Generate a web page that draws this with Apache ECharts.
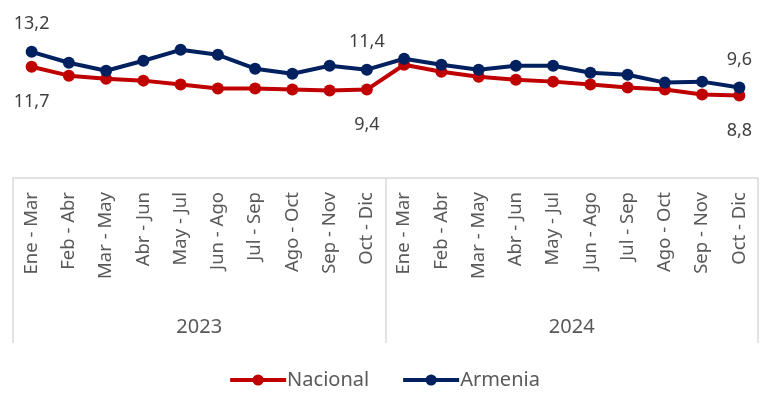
<!DOCTYPE html>
<html>
<head>
<meta charset="utf-8">
<script src="https://cdn.jsdelivr.net/npm/echarts@6/dist/echarts.min.js"></script>
<style>
  html, body { margin: 0; padding: 0; background: #fff; }
  #chart { width: 768px; height: 401px; }
</style>
</head>
<body>
<div id="chart"></div>
<script>
// periodos trimestrales móviles
var periodos = ['Ene - Mar', 'Feb - Abr', 'Mar - May', 'Abr - Jun', 'May - Jul', 'Jun - Ago',
  'Jul - Sep', 'Ago - Oct', 'Sep - Nov', 'Oct - Dic',
  'Ene - Mar', 'Feb - Abr', 'Mar - May', 'Abr - Jun', 'May - Jul', 'Jun - Ago',
  'Jul - Sep', 'Ago - Oct', 'Sep - Nov', 'Oct - Dic']
var anios = ['2023', '2024']

var nacional = [11.7, 10.8, 10.5, 10.3, 9.9, 9.5, 9.5, 9.4, 9.3, 9.4,
  11.9, 11.2, 10.7, 10.4, 10.2, 9.9, 9.6, 9.4, 8.9, 8.8]
var armenia = [13.2, 12.1, 11.3, 12.3, 13.4, 12.9, 11.5, 11.0, 11.8, 11.4,
  12.5, 11.9, 11.4, 11.8, 11.8, 11.1, 10.9, 10.1, 10.2, 9.6]

// puntos con etiqueta
var etiquetados = [0, 9, 19]

var fuente = 'Noto Sans'

function conEtiquetas (valores, pos, dist) {
  return valores.map(function (v, i) {
    if (etiquetados.indexOf(i) === -1) return v
    return {
      value: v,
      label: {
        show: true,
        position: pos,
        distance: dist,
        fontFamily: fuente,
        fontSize: 18,
        color: '#404040',
        formatter: function (p) { return String(p.value).replace('.', ',') }
      }
    }
  })
}

var myChart = echarts.init(document.getElementById('chart'))
myChart.setOption({
  animation: false,
  textStyle: { fontFamily: fuente },
  grid: { left: 13, right: 10, top: 24, bottom: 223 },
  legend: {
    bottom: 6,
    left: 'center',
    itemWidth: 56,
    itemHeight: 14,
    itemGap: 32,
    lineStyle: { width: 4 },
    textStyle: { fontFamily: fuente, fontSize: 20, color: '#595959', padding: [0, 0, 0, -4] },
    data: ['Nacional', 'Armenia']
  },
  xAxis: [
    {
      type: 'category',
      data: periodos,
      axisLine: { show: true, lineStyle: { color: '#d9d9d9', width: 1.5 } },
      axisTick: { show: false },
      axisLabel: {
        rotate: 90,
        interval: 0,
        margin: 14,
        fontFamily: fuente,
        fontSize: 18.5,
        color: '#595959'
      }
    },
    {
      type: 'category',
      data: anios,
      position: 'bottom',
      offset: 165,
      axisLine: { show: false },
      axisTick: {
        show: true,
        inside: true,
        length: 165,
        lineStyle: { color: '#d9d9d9', width: 1.5 }
      },
      axisLabel: {
        inside: true,
        margin: 6,
        fontFamily: fuente,
        fontSize: 20,
        color: '#595959'
      }
    }
  ],
  yAxis: {
    type: 'value',
    min: 0.5,
    max: 16,
    show: false,
    splitLine: { show: false }
  },
  series: [
    {
      name: 'Nacional',
      type: 'line',
      data: conEtiquetas(nacional, 'bottom', 20),
      symbol: 'circle',
      symbolSize: 12,
      lineStyle: { width: 4, color: '#C00000' },
      itemStyle: { color: '#C00000' }
    },
    {
      name: 'Armenia',
      type: 'line',
      data: conEtiquetas(armenia, 'top', 13),
      symbol: 'circle',
      symbolSize: 12,
      lineStyle: { width: 4, color: '#002060' },
      itemStyle: { color: '#002060' }
    }
  ]
})
</script>
</body>
</html>
